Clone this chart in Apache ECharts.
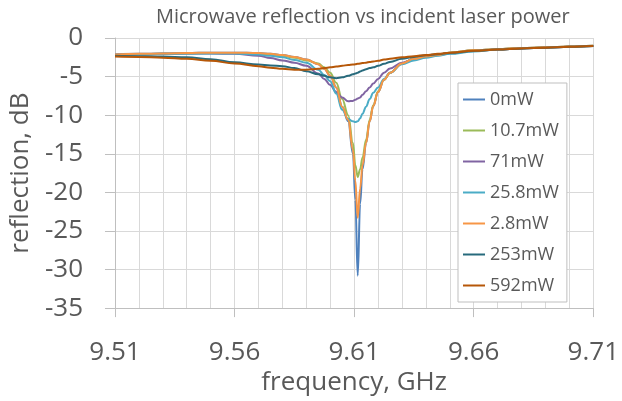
<!DOCTYPE html>
<html>
<head>
<meta charset="utf-8">
<script src="https://cdn.jsdelivr.net/npm/echarts@6/dist/echarts.min.js"></script>
<style>
    html, body { margin: 0; padding: 0; background: #fff; }
    #chart { width: 622px; height: 401px; }
</style>
</head>
<body>
<div id="chart"></div>
<script>
// frequency points (GHz), shared by all traces
var freq = [9.51, 9.52, 9.53, 9.54, 9.55, 9.56, 9.57, 9.575, 9.58, 9.585, 9.59, 9.595, 9.5975, 9.60,
    9.6025, 9.605, 9.6075, 9.6095, 9.6105, 9.6115, 9.6125, 9.6135, 9.615, 9.6165, 9.618, 9.62,
    9.6225, 9.625, 9.63, 9.635, 9.64, 9.645, 9.65, 9.66, 9.67, 9.68, 9.69, 9.70, 9.71];

// reflection, dB
var p0mW = [-2.1, -2.05, -2.0, -1.95, -1.9, -1.9, -1.95, -2.05, -2.2, -2.45, -2.8, -3.4, -4.0, -4.9,
    -6.4, -8.9, -10.8, -15.0, -21.0, -30.8, -21.5, -17.0, -13.6, -10.8, -8.8, -7.0,
    -5.4, -4.5, -3.3, -2.7, -2.4, -2.2, -1.9, -1.6, -1.45, -1.3, -1.2, -1.1, -1.0];
var p10_7mW = [-2.2, -2.1, -2.05, -2.0, -1.95, -1.95, -2.05, -2.15, -2.3, -2.55, -2.9, -3.3, -3.8, -4.5,
    -5.8, -7.9, -10.0, -13.6, -16.5, -18.0, -17.0, -15.5, -13.2, -10.6, -8.7, -6.9,
    -5.4, -4.5, -3.3, -2.7, -2.4, -2.2, -1.9, -1.6, -1.45, -1.3, -1.2, -1.1, -1.0];
var p71mW = [-2.2, -2.1, -2.05, -2.0, -2.0, -2.05, -2.3, -2.6, -2.9, -3.2, -3.6, -4.6, -5.3, -6.1,
    -7.0, -7.7, -8.2, -8.15, -8.0, -7.85, -7.7, -7.35, -6.9, -6.4, -5.9, -5.3,
    -4.5, -3.95, -3.2, -2.75, -2.45, -2.25, -2.0, -1.7, -1.5, -1.35, -1.25, -1.15, -1.05];
var p25_8mW = [-2.2, -2.1, -2.05, -2.0, -2.0, -2.0, -2.15, -2.3, -2.5, -2.85, -3.2, -4.1, -4.8, -5.6,
    -7.2, -9.3, -10.5, -10.8, -10.9, -10.8, -10.4, -9.8, -8.9, -7.9, -7.1, -6.4,
    -5.3, -4.5, -3.4, -2.9, -2.55, -2.3, -2.05, -1.75, -1.5, -1.35, -1.25, -1.15, -1.05];
var p2_8mW = [-2.15, -2.05, -2.0, -1.95, -1.9, -1.9, -1.95, -2.05, -2.2, -2.45, -2.8, -3.4, -4.0, -4.9,
    -6.4, -8.9, -10.6, -14.5, -18.5, -23.3, -19.5, -16.5, -13.6, -10.8, -8.8, -7.0,
    -5.4, -4.5, -3.3, -2.7, -2.4, -2.2, -1.9, -1.6, -1.45, -1.3, -1.2, -1.1, -1.0];
var p253mW = [-2.3, -2.35, -2.4, -2.5, -2.75, -3.15, -3.45, -3.55, -3.65, -3.9, -4.3, -4.7, -4.9, -5.1,
    -5.2, -5.1, -4.9, -4.7, -4.6, -4.5, -4.35, -4.2, -4.05, -3.9, -3.8, -3.6,
    -3.35, -3.1, -2.7, -2.45, -2.25, -2.1, -1.95, -1.7, -1.5, -1.35, -1.25, -1.15, -1.05];
var p592mW = [-2.4, -2.45, -2.55, -2.7, -2.95, -3.3, -3.65, -3.85, -4.0, -4.1, -4.1, -4.0, -3.9, -3.8,
    -3.7, -3.6, -3.5, -3.45, -3.4, -3.35, -3.3, -3.25, -3.2, -3.1, -3.05, -2.95,
    -2.8, -2.7, -2.5, -2.35, -2.2, -2.05, -1.9, -1.65, -1.5, -1.35, -1.25, -1.15, -1.05];

var names = ['0mW', '10.7mW', '71mW', '25.8mW', '2.8mW', '253mW', '592mW'];
var values = [p0mW, p10_7mW, p71mW, p25_8mW, p2_8mW, p253mW, p592mW];
var colors = ['#4F81BD', '#9BBB59', '#8064A2', '#4BACC6', '#F79646', '#276A7C', '#B65708'];

var font = '"Open Sans", sans-serif';
var textColor = '#595959';

var series = names.map(function (name, i) {
    return {
        name: name,
        type: 'line',
        symbol: 'none',
        smooth: 0.4,
        smoothMonotone: 'x',
        lineStyle: { width: 2, color: colors[i] },
        itemStyle: { color: colors[i] },
        data: freq.map(function (f, j) { return [f, values[i][j]]; })
    };
});

var myChart = echarts.init(document.getElementById('chart'));

myChart.setOption({
    animation: false,
    color: colors,
    title: {
        text: 'Microwave reflection vs incident laser power',
        left: 151,
        top: 2,
        textStyle: { fontFamily: font, fontSize: 20, fontWeight: 'normal', color: textColor }
    },
    grid: { left: 114, right: 28, top: 38, bottom: 90 },
    legend: {
        orient: 'vertical',
        left: 458,
        top: 83,
        padding: [7, 8, 7, 5],
        icon: 'rect',
        itemWidth: 22,
        itemHeight: 2,
        itemGap: 12,
        backgroundColor: '#fff',
        borderColor: '#bfbfbf',
        borderWidth: 1,
        textStyle: { fontFamily: font, fontSize: 18, color: textColor, lineHeight: 19 },
        data: names
    },
    xAxis: {
        type: 'value',
        min: 9.51,
        max: 9.71,
        interval: 0.05,
        name: 'frequency, GHz',
        nameLocation: 'middle',
        nameGap: 61,
        nameTextStyle: { fontFamily: font, fontSize: 26, color: textColor },
        axisLine: { onZero: false, lineStyle: { color: '#bfbfbf', width: 1 } },
        axisTick: { show: true, length: 9, lineStyle: { color: '#bfbfbf' } },
        axisLabel: {
            margin: 31,
            fontFamily: font, fontSize: 26, color: textColor,
            formatter: function (v) { return v.toFixed(2); }
        },
        splitLine: { show: true, lineStyle: { color: '#d9d9d9' } },
        minorTick: { show: false, splitNumber: 5 },
        minorSplitLine: { show: true, lineStyle: { color: '#d9d9d9' } }
    },
    yAxis: {
        type: 'value',
        min: -35,
        max: 0,
        interval: 5,
        name: 'reflection, dB',
        nameLocation: 'middle',
        nameGap: 75,
        nameTextStyle: { fontFamily: font, fontSize: 26, color: textColor },
        axisLine: { show: true, lineStyle: { color: '#bfbfbf', width: 1 } },
        axisTick: { show: true, length: 10, lineStyle: { color: '#bfbfbf' } },
        axisLabel: { margin: 32, fontFamily: font, fontSize: 26, color: textColor },
        splitLine: { show: true, lineStyle: { color: '#d9d9d9' } }
    },
    series: series
});
</script>
</body>
</html>
